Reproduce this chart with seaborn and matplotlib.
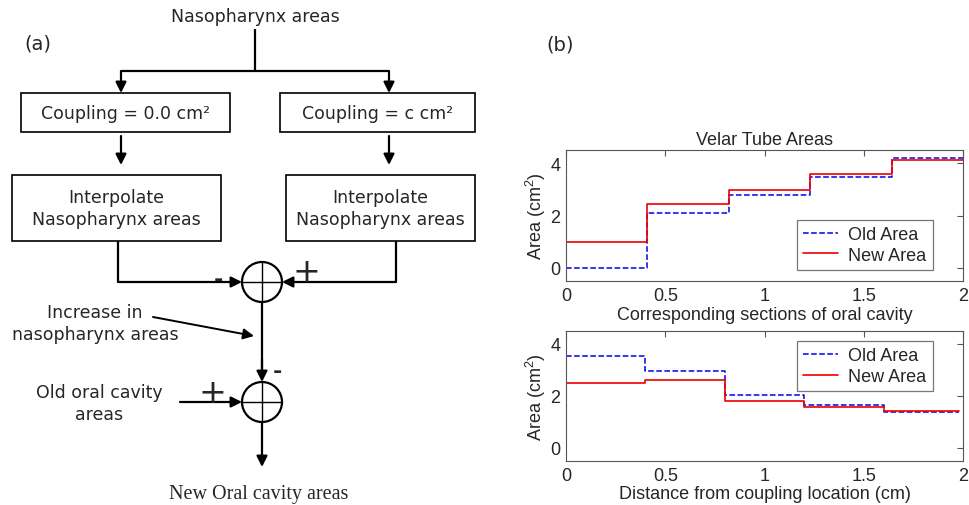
import matplotlib
matplotlib.use("Agg")
import matplotlib.pyplot as plt
import seaborn as sns
import pandas as pd
from matplotlib.patches import Rectangle, Circle

# ---------------- data ----------------
top_edges = [0, 0.41, 0.82, 1.23, 1.64, 2.05]
top_old = [0.0, 2.08, 2.78, 3.48, 4.19]
top_new = [1.0, 2.43, 2.99, 3.57, 4.13]

bot_edges = [0, 0.4, 0.8, 1.2, 1.6, 1.98]
bot_old = [3.52, 2.95, 2.03, 1.65, 1.38]
bot_new = [2.51, 2.62, 1.81, 1.56, 1.43]

x_ticks = [0, 0.5, 1, 1.5, 2]
x_ticklabels = ["0", "0.5", "1", "1.5", "2"]
y_ticks = [0, 2, 4]
series_names = ["Old Area", "New Area"]

sns.set_style("white")
plt.rcParams["font.family"] = ["Liberation Sans", "DejaVu Sans"]
plt.rcParams["mathtext.default"] = "regular"

fig = plt.figure(figsize=(9.69, 5.06), dpi=100)

# ---------------- block diagram (pixel coordinates) ----------------
d = fig.add_axes([0, 0, 1, 1])
d.set_xlim(0, 969)
d.set_ylim(506, 0)
d.axis("off")

DF = ["DejaVu Sans"]
fs = 12.5
LW = 1.6


def line(pts):
    xs, ys = zip(*pts)
    d.plot(xs, ys, color="k", lw=LW, solid_capstyle="butt")


def arrow(p0, p1, lw=LW):
    d.annotate("", xy=p1, xytext=p0,
               arrowprops=dict(arrowstyle="-|>", color="k", lw=lw,
                               mutation_scale=16, shrinkA=0, shrinkB=0))


def box(x0, y0, x1, y1, txt):
    d.add_patch(Rectangle((x0, y0), x1 - x0, y1 - y0, fill=False, ec="k", lw=1.2))
    d.text((x0 + x1) / 2, (y0 + y1) / 2, txt, ha="center", va="center",
           fontsize=fs, family=DF, linespacing=1.3)


def summer(cx, cy, r=20):
    d.add_patch(Circle((cx, cy), r, fill=False, ec="k", lw=LW))
    d.plot([cx - r, cx + r], [cy, cy], color="k", lw=1.0)
    d.plot([cx, cx], [cy - r, cy + r], color="k", lw=1.0)


d.text(255, 17, "Nasopharynx areas", ha="center", va="center", fontsize=fs, family=DF)
d.text(38, 44, "(a)", ha="center", va="center", fontsize=14, family=DF)
d.text(560, 45, "(b)", ha="center", va="center", fontsize=14, family=DF)

line([(255, 30), (255, 72)])
line([(121, 72), (389, 72)])
arrow((121, 72), (121, 94))
arrow((389, 72), (389, 94))

box(21, 94, 230, 133, "Coupling = 0.0 cm\u00b2")
box(280, 94, 475, 133, "Coupling = c cm\u00b2")

arrow((121, 137), (121, 166))
arrow((389, 137), (389, 166))

box(12, 176, 221, 242, "Interpolate\nNasopharynx areas")
box(286, 176, 475, 242, "Interpolate\nNasopharynx areas")

summer(262, 283)
line([(118, 242), (118, 283)])
arrow((118, 283), (242, 283))
line([(396, 242), (396, 283)])
arrow((396, 283), (282, 283))
d.text(218, 280, "-", ha="center", va="center", fontsize=16, family=DF, weight="bold")
d.text(306, 273, "+", ha="center", va="center", fontsize=24, family=DF)

summer(262, 403)
line([(262, 303), (262, 370)])
arrow((262, 360), (262, 383))
d.text(277, 372, "-", ha="center", va="center", fontsize=16, family=DF, weight="bold")

d.text(95, 324, "Increase in\nnasopharynx areas", ha="center", va="center",
       fontsize=fs, family=DF, linespacing=1.35)
arrow((153, 318), (254, 337), lw=1.4)

d.text(99, 404, "Old oral cavity\nareas", ha="center", va="center",
       fontsize=fs, family=DF, linespacing=1.35)
arrow((180, 403), (242, 403))
d.text(212, 394, "+", ha="center", va="center", fontsize=24, family=DF)

arrow((262, 423), (262, 468))
d.text(259, 495, "New Oral cavity areas", ha="center", va="center",
       fontsize=14.5, family=["Liberation Serif"])

# ---------------- step plots ----------------
def step_frame(edges, old, new):
    rows = []
    for name, vals in zip(series_names, [old, new]):
        ys = list(vals) + [vals[-1]]
        for x, y in zip(edges, ys):
            rows.append({"x": x, "y": y, "series": name})
    return pd.DataFrame(rows)


def style_axes(ax):
    ax.set_xlim(0, 2)
    ax.set_ylim(-0.5, 4.5)
    ax.set_xticks(x_ticks)
    ax.set_xticklabels(x_ticklabels)
    ax.set_yticks(y_ticks)
    ax.tick_params(direction="in", top=True, right=True, length=4, width=0.8,
                   labelsize=13, color="#555555", pad=4)
    for s in ax.spines.values():
        s.set_visible(True)
        s.set_color("#555555")
        s.set_linewidth(0.8)
    ax.set_ylabel("Area (cm$^2$)", fontsize=13, labelpad=2)


def draw(ax, df):
    sub_old = df[df.series == "Old Area"]
    sub_new = df[df.series == "New Area"]
    sns.lineplot(data=sub_old, x="x", y="y", ax=ax, color="#0000ee",
                 linestyle="--", lw=1.1, drawstyle="steps-post",
                 label="Old Area", sort=False, estimator=None)
    sns.lineplot(data=sub_new, x="x", y="y", ax=ax, color="#ee0000",
                 linestyle="-", lw=1.2, drawstyle="steps-post",
                 label="New Area", sort=False, estimator=None)


ax1 = fig.add_axes([566 / 969, 1 - 282 / 506, 397 / 969, 131 / 506])
draw(ax1, step_frame(top_edges, top_old, top_new))
style_axes(ax1)
ax1.set_title("Velar Tube Areas", fontsize=13, pad=4)
ax1.set_xlabel("Corresponding sections of oral cavity", fontsize=13, labelpad=2)
leg1 = ax1.legend(loc="lower right", bbox_to_anchor=(0.924, 0.084), fontsize=13,
                  frameon=True, fancybox=False, edgecolor="#555555",
                  handlelength=1.9, borderpad=0.35, labelspacing=0.2,
                  handletextpad=0.6, borderaxespad=0)
leg1.get_frame().set_linewidth(0.9)

ax2 = fig.add_axes([566 / 969, 1 - 462 / 506, 397 / 969, 130 / 506])
draw(ax2, step_frame(bot_edges, bot_old, bot_new))
style_axes(ax2)
ax2.set_xlabel("Distance from coupling location (cm)", fontsize=13, labelpad=1)
leg2 = ax2.legend(loc="upper right", bbox_to_anchor=(0.924, 0.923), fontsize=13,
                  frameon=True, fancybox=False, edgecolor="#555555",
                  handlelength=1.9, borderpad=0.35, labelspacing=0.2,
                  handletextpad=0.6, borderaxespad=0)
leg2.get_frame().set_linewidth(0.9)

fig.savefig("out.png", dpi=100)
